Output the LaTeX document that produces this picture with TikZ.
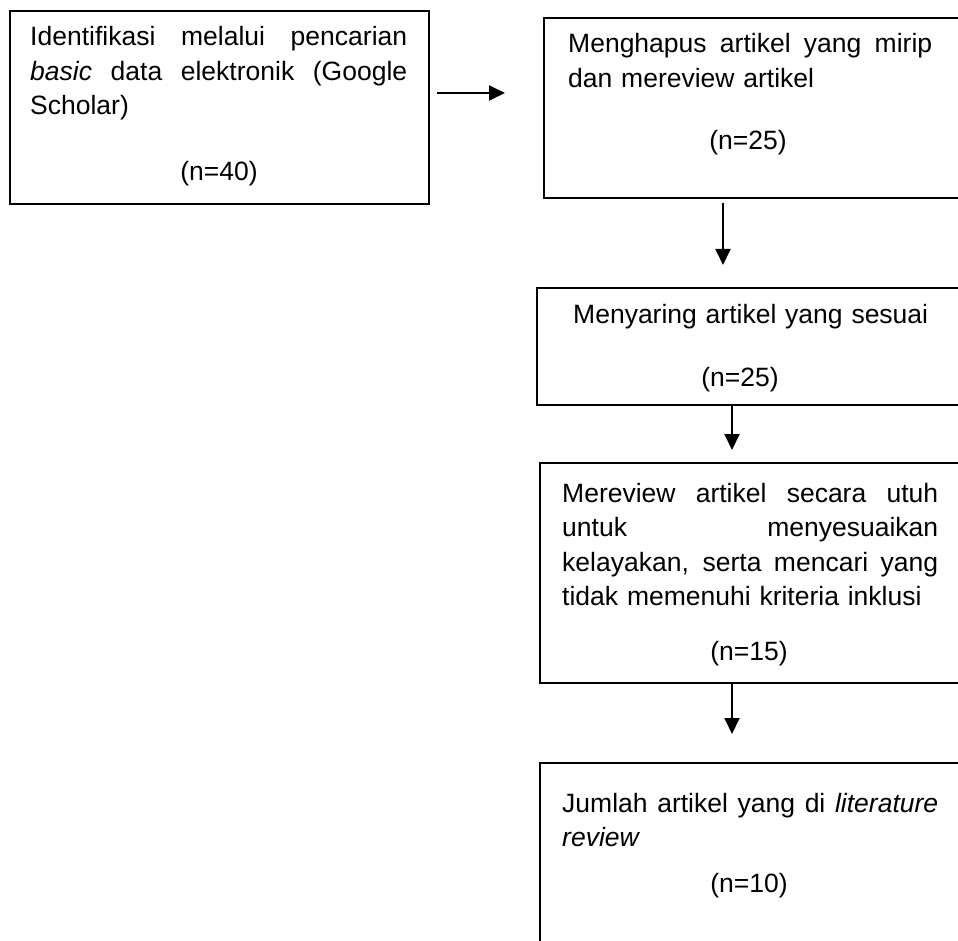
\documentclass[tikz,border=0pt]{standalone}
\usepackage{fontspec}
\setmainfont{Liberation Sans}
\usetikzlibrary{arrows.meta}
\newcommand{\jl}[2]{\leavevmode\hbox to #1{\spaceskip=0.28em plus 10em\relax #2}}
\begin{document}
\begin{tikzpicture}[x=1pt,y=-1pt,
  box/.style={draw=black, line width=1.9pt, rectangle, anchor=north west, inner sep=0pt},
  txt/.style={anchor=base west, inner sep=0pt, align=left, font=\fontsize{26.5}{34.5}\selectfont},
  cnt/.style={anchor=base, inner sep=0pt, font=\fontsize{26.5}{34.5}\selectfont},
  arr/.style={line width=1.9pt, -{Triangle[length=16pt,width=15pt]}}]
\useasboundingbox (0,0) rectangle (958,941);
\clip (0,0) rectangle (958,941);
\fill[white] (0,0) rectangle (958,941);
% boxes
\node[box, minimum width=419pt, minimum height=193pt] (b1) at (9,10) {};
\node[box, minimum width=440pt, minimum height=180pt] (b2) at (543,17) {};
\node[box, minimum width=450pt, minimum height=117pt] (b3) at (536,287) {};
\node[box, minimum width=450pt, minimum height=220pt] (b4) at (539,462) {};
\node[box, minimum width=450pt, minimum height=260pt] (b5) at (539,762) {};
% texts
\node[txt, text width=377pt] (t1) at (30,46) {\jl{377pt}{Identifikasi melalui pencarian}\\\jl{377pt}{\textit{basic} data elektronik (Google}\\Scholar)};
\node[cnt] (n1) at (219,181) {(n=40)};
\node[txt, text width=364pt] (t2) at (568,53) {\jl{364pt}{Menghapus artikel yang mirip}\\dan mereview artikel};
\node[cnt] (n2) at (748,150) {(n=25)};
\node[txt, text width=360pt] (t3) at (573,323) {Menyaring artikel yang sesuai};
\node[cnt] (n3) at (740,386) {(n=25)};
\node[txt, text width=376pt] (t4) at (562,502) {\jl{376pt}{Mereview artikel secara utuh}\\\jl{376pt}{untuk menyesuaikan}\\\jl{376pt}{kelayakan, serta mencari yang}\\tidak memenuhi kriteria inklusi};
\node[cnt] (n4) at (749,660) {(n=15)};
\node[txt, text width=376pt] (t5) at (562,812) {\jl{376pt}{Jumlah artikel yang di \textit{literature}}\\\textit{review}};
\node[cnt] (n5) at (749,892) {(n=10)};
% arrows
\coordinate (a1s) at (437,93);
\coordinate (a1e) at (505,93);
\coordinate (a2s) at (723,203);
\coordinate (a2e) at (723,265);
\coordinate (a3s) at (732,404);
\coordinate (a3e) at (732,450);
\coordinate (a4s) at (732,682);
\coordinate (a4e) at (732,734);
\draw[arr] (a1s) -- (a1e);
\draw[arr] (a2s) -- (a2e);
\draw[arr] (a3s) -- (a3e);
\draw[arr] (a4s) -- (a4e);
\end{tikzpicture}
\end{document}
